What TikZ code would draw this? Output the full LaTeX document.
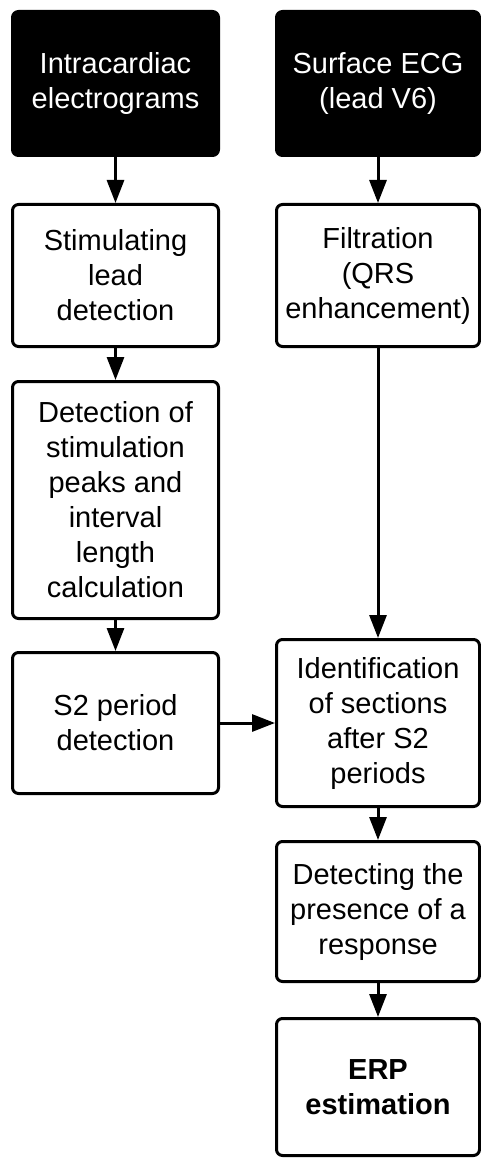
\documentclass[tikz,border=0pt]{standalone}
\usepackage{fontspec}
\setmainfont{Liberation Sans}
\usetikzlibrary{arrows.meta}
\begin{document}
\begin{tikzpicture}[x=1pt,y=1pt,
  box/.style={draw=black, line width=3pt, rounded corners=6pt, align=center,
    inner sep=0pt, font=\fontsize{29}{35}\selectfont, fill=white},
  blackbox/.style={box, fill=black, text=white},
  arr/.style={line width=3pt, -{Triangle[length=23pt,width=17pt]}}]
\useasboundingbox (0,0) rectangle (481,-1158);
\node[blackbox, minimum width=206pt, minimum height=144pt] (a1) at (115.5,-83.5) {Intracardiac\\electrograms};
\node[blackbox, minimum width=203pt, minimum height=144pt] (b1) at (378,-83.5) {Surface ECG\\(lead V6)};
\node[box, minimum width=206pt, minimum height=142pt] (a2) at (115.5,-275.5) {Stimulating\\lead\\detection};
\node[box, minimum width=203pt, minimum height=142pt] (b2) at (378,-275.5) {Filtration\\(QRS\\enhancement)};
\node[box, minimum width=206pt, minimum height=237pt] (a3) at (115.5,-500) {Detection of\\stimulation\\peaks and\\interval\\length\\calculation};
\node[box, minimum width=206pt, minimum height=141pt] (a4) at (115.5,-723) {S2 period\\detection};
\node[box, minimum width=203pt, minimum height=167pt] (b3) at (378,-723) {Identification\\of sections\\after S2\\periods};
\node[box, minimum width=203pt, minimum height=140pt] (b4) at (378,-911.5) {Detecting the\\presence of a\\response};
\node[box, minimum width=203pt, minimum height=137pt] (b5) at (378,-1087) {\textbf{ERP}\\\textbf{estimation}};
\draw[arr] (a1) -- (a2);
\draw[arr] (b1) -- (b2);
\draw[arr] (a2) -- (a3);
\draw[arr] (a3) -- (a4);
\draw[arr] (b2) -- (b3);
\draw[arr] (a4) -- (b3);
\draw[arr] (b3) -- (b4);
\draw[arr] (b4) -- (b5);
\end{tikzpicture}
\end{document}
